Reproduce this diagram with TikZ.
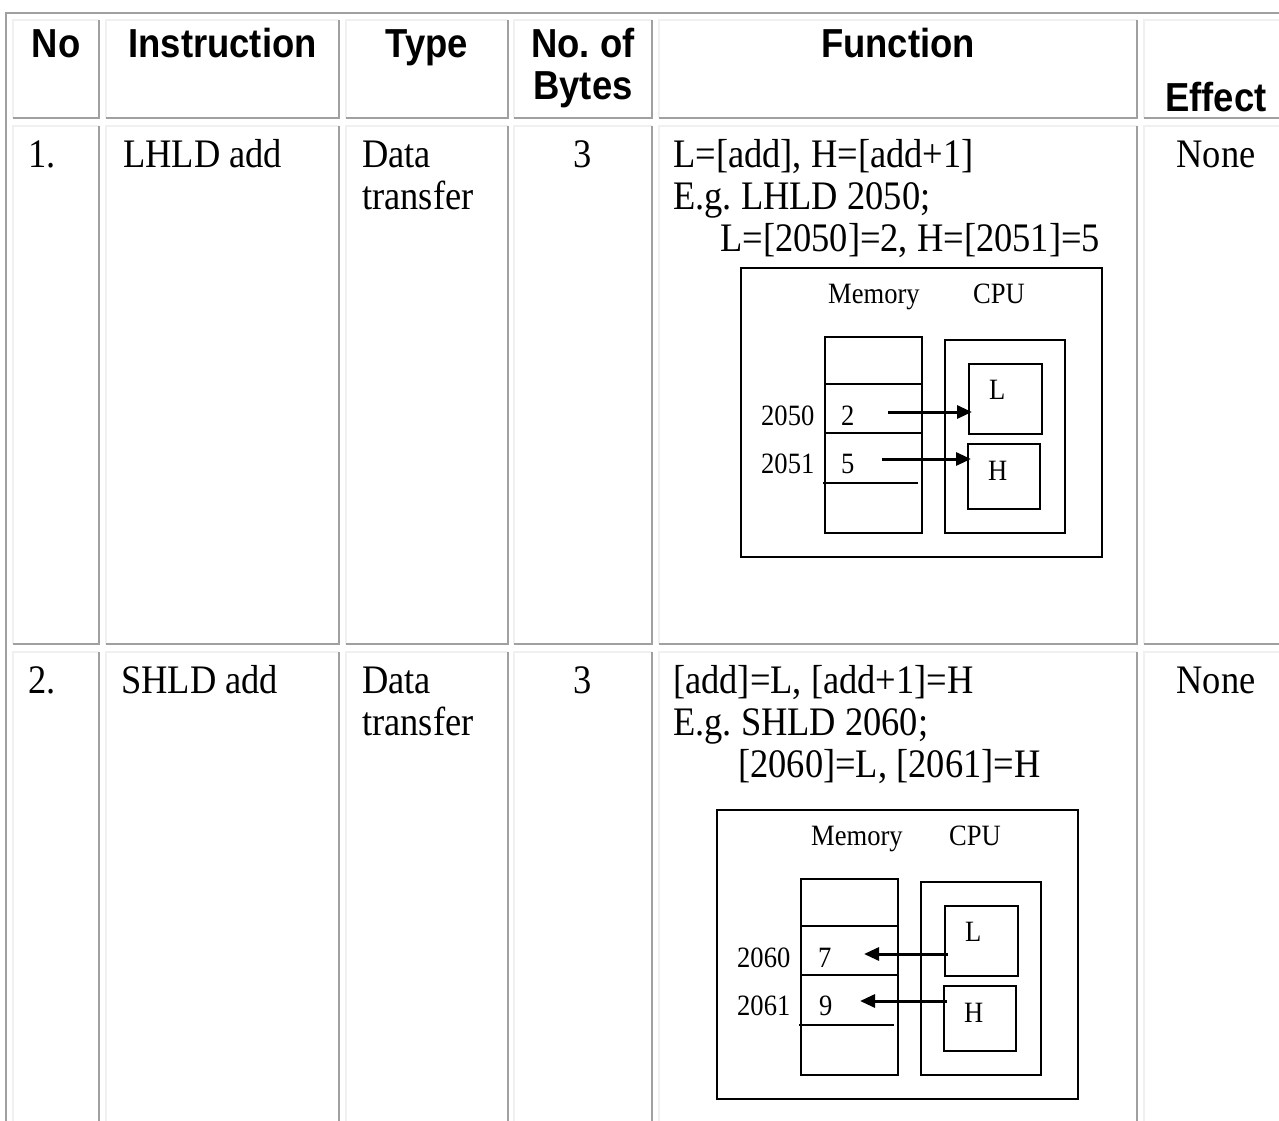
\documentclass[tikz,border=0pt]{standalone}
\usepackage{fontspec}
\setmainfont{Liberation Serif}[FakeStretch=0.9]
\newfontfamily\headfam{Liberation Sans}[FakeStretch=0.9]
\usetikzlibrary{positioning, arrows.meta}
\definecolor{rimdark}{HTML}{A0A0A0}
\definecolor{rimlight}{HTML}{F0F0F0}
\newcommand\bodyfont{\fontsize{40.5}{42}\selectfont}
\newcommand\headfont{\headfam\bfseries\fontsize{40.5}{42}\selectfont}
\newcommand\figfont{\fontsize{29.5}{32}\selectfont}
\frenchspacing
\tikzset{
	rimD/.style={rimdark, line width=2pt},
	rimL/.style={rimlight, line width=2pt},
	head/.style={anchor=base, inner sep=0pt, font=\headfont},
	cell/.style={anchor=base west, inner sep=0pt, font=\bodyfont},
	cellC/.style={anchor=base, inner sep=0pt, font=\bodyfont},
	fig/.style={anchor=base west, inner sep=0pt, font=\figfont},
	box/.style={draw, line width=1.6pt, inner sep=0pt, anchor=north west},
	flow/.style={line width=3pt, -{Triangle[length=15pt,width=13pt]}}
}

\begin{document}
\begin{tikzpicture}[x=1pt, y=-1pt]
\useasboundingbox (0,0) rectangle (1279,1121);
\clip (0,0) rectangle (1279,1121);
\fill[white] (0,0) rectangle (1279,1121);

% table rims
\draw[rimD] (6,1140) -- (6,13) -- (1300,13);
\foreach \xa/\xb in {13/99,106/339,346/508,514/652,659/1137,1144/1300}
  \foreach \ya/\yb in {20/118,126/644,652/1140}{
    \draw[rimL] (\xa,\yb) -- (\xa,\ya) -- (\xb,\ya);
    \draw[rimD] (\xb,\ya) -- (\xb,\yb) -- (\xa,\yb);
  }

% header
\node[head] (hNo) at (56,58) {No};
\node[head] (hInstr) at (222.5,58) {Instruction};
\node[head] (hType) at (427,58) {Type};
\node[head] (hBytesA) at (583,58) {No. of};
\node[head] (hBytesB) at (583,100) {Bytes};
\node[head] (hFunc) at (898,58) {Function};
\node[head] (hEffect) at (1216,112) {Effect};

% row 1
\node[cell] (noA) at (28,167) {1.};
\node[cell] (instrA) at (123,167) {LHLD add};
\node[cell] (typeA) at (362,167) {Data};
\node[cell] (typeAb) at (362,209) {transfer};
\node[cellC] (bytesA) at (583,167) {3};
\node[cell] (funcA) at (673,167) {L=[add], H=[add+1]};
\node[cell] (funcAb) at (673,209) {E.g. LHLD 2050;};
\node[cell] (funcAc) at (720,251) {L=[2050]=2, H=[2051]=5};
\node[cellC] (effA) at (1216,167) {None};

% row 2
\node[cell] (noB) at (28,693) {2.};
\node[cell] (instrB) at (121,693) {SHLD add};
\node[cell] (typeB) at (362,693) {Data};
\node[cell] (typeBb) at (362,735) {transfer};
\node[cellC] (bytesB) at (583,693) {3};
\node[cell] (funcB) at (673,693) {[add]=L, [add+1]=H};
\node[cell] (funcBb) at (673,735) {E.g. SHLD 2060;};
\node[cell] (funcBc) at (738,777) {[2060]=L, [2061]=H};
\node[cellC] (effB) at (1216,693) {None};

% LHLD figure
\begin{scope}[shift={(740,267)}]
\node[box, minimum width=361pt, minimum height=289pt] (frameA) at (0,0) {};
\node[box, minimum width=97pt, minimum height=196pt] (memA) at (84,69) {};
\node[box, minimum width=120pt, minimum height=193pt] (cpuA) at (204,72) {};
\node[box, minimum width=73pt, minimum height=70pt] (regLA) at (228,96) {};
\node[box, minimum width=72pt, minimum height=65pt] (regHA) at (227,176) {};
\draw[line width=1.6pt] (84,117) -- (181,117) (84,166) -- (181,166) (83,216) -- (178,216);
\node[fig] (memTA) at (88,36) {Memory};
\node[fig] (cpuTA) at (233,36) {CPU};
\node[fig] (lTA) at (249,132) {L};
\node[fig] (hTA) at (248,213) {H};
\node[fig] (adrA1) at (21,158) {2050};
\node[fig] (adrA2) at (21,206) {2051};
\node[fig] (valA1) at (101,158) {2};
\node[fig] (valA2) at (101,206) {5};
\coordinate (srcA1) at (148,145);
\coordinate (srcA2) at (142,192);
\draw[flow, shorten >=-4pt] (srcA1) -- (srcA1 -| regLA.west);
\draw[flow, shorten >=-4pt] (srcA2) -- (srcA2 -| regHA.west);
\end{scope}

% SHLD figure
\begin{scope}[shift={(716,809)}]
\node[box, minimum width=361pt, minimum height=289pt] (frameB) at (0,0) {};
\node[box, minimum width=97pt, minimum height=196pt] (memB) at (84,69) {};
\node[box, minimum width=120pt, minimum height=193pt] (cpuB) at (204,72) {};
\node[box, minimum width=73pt, minimum height=70pt] (regLB) at (228,96) {};
\node[box, minimum width=72pt, minimum height=65pt] (regHB) at (227,176) {};
\draw[line width=1.6pt] (84,117) -- (181,117) (84,166) -- (181,166) (83,216) -- (178,216);
\node[fig] (memTB) at (95,36) {Memory};
\node[fig] (cpuTB) at (233,36) {CPU};
\node[fig] (lTB) at (249,132) {L};
\node[fig] (hTB) at (248,213) {H};
\node[fig] (adrB1) at (21,158) {2060};
\node[fig] (adrB2) at (21,206) {2061};
\node[fig] (valB1) at (102,158) {7};
\node[fig] (valB2) at (103,206) {9};
\coordinate (dstB1) at (148,145);
\coordinate (dstB2) at (144,192);
\draw[flow, shorten <=-4pt] (dstB1 -| regLB.west) -- (dstB1);
\draw[flow, shorten <=-4pt] (dstB2 -| regHB.west) -- (dstB2);
\end{scope}
\end{tikzpicture}
\end{document}
